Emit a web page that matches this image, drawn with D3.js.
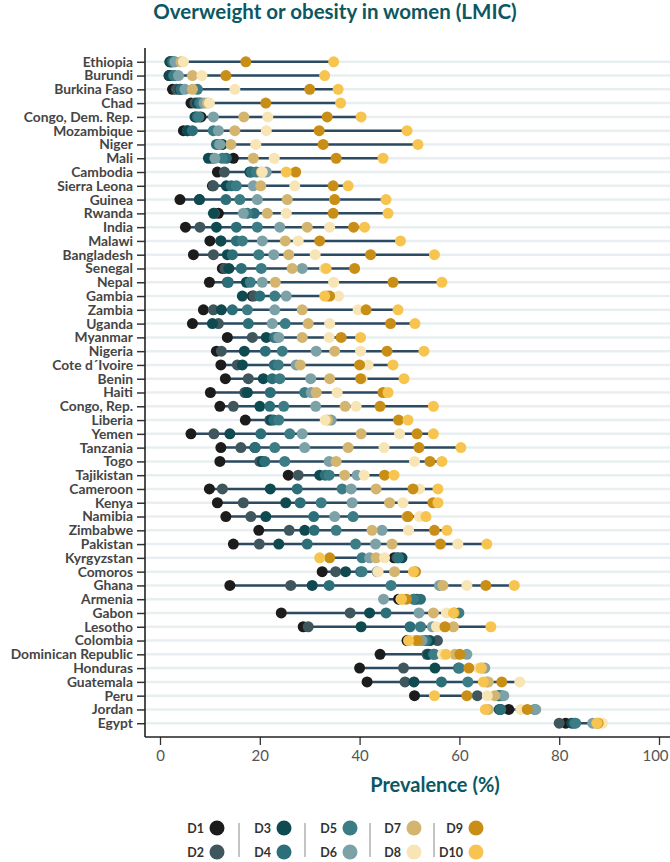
<!DOCTYPE html>
<html><head><meta charset="utf-8">
<script src="https://d3js.org/d3.v7.min.js"></script>
<style>
body{margin:0;background:#fff;}
svg{display:block;font-family:Lato,"Open Sans",sans-serif;}
</style></head>
<body><svg id="chart" width="670" height="862"></svg>
<script>
const countries = ["Ethiopia","Burundi","Burkina Faso","Chad","Congo, Dem. Rep.","Mozambique","Niger","Mali","Cambodia","Sierra Leona","Guinea","Rwanda","India","Malawi","Bangladesh","Senegal","Nepal","Gambia","Zambia","Uganda","Myanmar","Nigeria","Cote d´Ivoire","Benin","Haiti","Congo, Rep.","Liberia","Yemen","Tanzania","Togo","Tajikistan","Cameroon","Kenya","Namibia","Zimbabwe","Pakistan","Kyrgyzstan","Comoros","Ghana","Armenia","Gabon","Lesotho","Colombia","Dominican Republic","Honduras","Guatemala","Peru","Jordan","Egypt"];

const dec1  = [2.0,1.8,2.5,6.2,8.2,4.7,12.0,14.7,11.5,10.5,4.0,11.7,5.1,10.0,6.7,12.5,9.9,18.5,8.7,6.5,13.5,11.3,12.2,13.1,10.1,12.0,17.1,6.2,12.2,12.0,25.7,9.9,11.5,13.2,19.8,14.7,46.9,32.5,14.0,47.8,24.3,28.7,49.5,44.1,40.0,41.5,51.0,69.9,81.3];
const dec2  = [2.3,2.0,3.3,7.0,7.2,5.5,12.3,10.5,12.9,10.7,7.9,10.9,8.0,12.2,10.7,13.0,13.5,18.8,10.7,11.7,18.5,12.3,15.5,17.7,17.0,14.7,22.0,10.8,16.2,20.0,27.7,12.5,16.7,18.2,25.9,19.9,47.5,35.2,26.2,51.5,38.1,29.7,55.6,53.5,48.8,49.1,63.6,68.3,80.0];
const dec3  = [2.0,1.9,4.0,7.5,7.0,5.5,12.5,9.7,18.0,13.3,7.9,10.7,11.3,12.2,13.5,13.8,17.3,16.5,12.3,10.5,21.3,16.9,16.5,20.7,17.5,20.0,22.3,14.0,19.0,20.5,32.0,22.1,25.2,21.2,29.0,23.8,48.5,37.2,30.5,51.0,42.0,40.3,54.1,53.8,55.1,50.9,67.8,68.0,82.5];
const dec4  = [2.5,2.7,4.2,7.9,7.5,6.5,11.3,13.3,18.3,14.3,13.2,18.9,15.3,15.3,14.5,16.3,13.7,20.0,14.5,17.7,22.9,21.1,22.9,22.5,22.1,22.0,22.8,20.2,19.1,21.0,33.1,27.5,28.1,30.8,30.9,29.5,47.8,40.2,33.9,52.2,45.3,50.1,53.4,54.8,59.8,56.4,68.1,68.2,83.0];
const dec5  = [2.8,2.9,7.5,8.2,7.8,10.7,11.8,12.5,19.3,15.3,16.0,17.5,19.5,16.5,19.8,20.3,18.1,23.0,17.5,25.1,23.3,24.5,23.7,24.0,29.0,24.8,23.8,26.0,23.0,25.0,33.9,36.5,32.3,38.7,35.3,39.2,40.5,40.5,46.3,50.8,59.9,52.2,53.0,55.0,60.0,61.7,68.5,75.1,83.3];
const dec6  = [3.0,3.7,5.0,8.8,10.7,11.7,12.0,11.0,21.3,18.7,19.5,16.7,24.0,20.5,22.8,28.5,20.5,25.3,23.0,22.5,23.8,31.3,27.3,30.2,30.3,31.2,34.3,28.5,29.0,33.9,39.5,38.3,38.5,35.0,44.5,43.2,42.0,43.5,56.0,44.8,51.9,54.6,52.5,61.5,65.1,65.5,68.9,75.3,86.7];
const dec7  = [4.2,6.5,6.5,9.5,16.8,15.0,14.2,18.7,20.3,20.2,25.5,21.5,29.5,25.1,25.8,26.5,23.1,33.5,28.5,29.7,28.5,35.0,28.1,34.0,31.3,37.1,33.6,40.3,37.7,35.3,37.0,43.3,46.0,49.5,42.5,46.5,43.3,47.0,56.7,48.5,54.8,58.8,51.0,59.1,64.5,65.8,67.1,65.8,87.5];
const dec8  = [4.7,8.4,15.0,9.9,21.6,21.3,19.2,22.9,20.5,27.0,35.0,25.3,34.0,27.7,31.1,33.0,34.8,35.8,39.7,34.0,33.9,40.2,41.7,40.5,35.5,39.3,33.1,48.0,44.9,51.0,40.9,52.0,48.7,52.0,49.8,59.7,45.0,43.7,61.5,48.3,57.4,55.4,50.3,56.6,63.8,72.1,65.6,72.3,88.7];
const dec9  = [17.2,13.2,30.0,21.2,33.5,31.9,32.7,35.3,27.2,34.7,35.0,34.7,38.8,32.0,42.2,39.0,46.7,34.0,41.3,46.2,36.3,45.5,40.0,40.2,44.7,44.1,47.8,51.5,51.9,54.1,45.0,50.7,54.7,49.7,55.0,56.2,34.0,51.2,65.3,49.4,59.0,57.1,51.6,60.1,61.9,68.5,61.5,73.6,87.8];
const dec10 = [34.8,33.0,35.7,36.2,40.3,49.5,51.7,44.7,25.3,37.7,45.3,45.7,41.0,48.2,55.0,33.3,56.5,33.0,47.7,51.1,40.2,52.9,46.7,48.9,45.7,54.8,49.7,54.8,60.3,56.5,46.9,55.7,55.7,53.3,57.5,65.5,32.0,50.8,71.0,48.4,58.8,66.3,49.8,57.3,64.3,64.8,55.0,65.2,87.6];

const decileNames = ["D1","D2","D3","D4","D5","D6","D7","D8","D9","D10"];
const decileColors = ["#1c1c1c","#3f565c","#0f4a51","#2c6f79","#3b7c85","#7ca1a7","#d3b570","#f8e5b6","#c98e16","#f7c54f"];
const xTicks = [0,20,40,60,80,100];

const series = [dec1,dec2,dec3,dec4,dec5,dec6,dec7,dec8,dec9,dec10];

const svg = d3.select("#chart");
const plotLeft = 145, plotRight = 670, plotTop = 48, plotBottom = 737;
const teal = "#0c5761";

const x = d3.scaleLinear().domain([0,100]).range([160,659]);
const y = d3.scalePoint().domain(countries).range([plotTop, plotBottom]).padding(1);

// title
svg.append("text").attr("x",335).attr("y",19).attr("text-anchor","middle")
  .attr("font-size",20.5).attr("font-weight","bold").attr("fill",teal)
  .text("Overweight or obesity in women (LMIC)");

// gridlines
svg.append("g").selectAll("line").data(countries).join("line")
  .attr("x1",plotLeft).attr("x2",plotRight)
  .attr("y1",d=>y(d)).attr("y2",d=>y(d))
  .attr("stroke","#e9eff1").attr("stroke-width",2.5);

// y axis
const yAxis = svg.append("g").attr("transform",`translate(${plotLeft},0)`)
  .call(d3.axisLeft(y).tickSize(8).tickPadding(4));
yAxis.select(".domain").remove();
yAxis.selectAll(".tick line").attr("stroke","#333").attr("stroke-width",1.5);
yAxis.selectAll(".tick text").attr("font-size",13.8).attr("font-weight","bold")
  .attr("fill","#454545").attr("font-family","Lato, sans-serif");
svg.append("line").attr("x1",plotLeft).attr("x2",plotLeft).attr("y1",plotTop).attr("y2",plotBottom)
  .attr("stroke","#222").attr("stroke-width",1.6);

// x axis
const xAxis = svg.append("g").attr("transform",`translate(0,${plotBottom})`)
  .call(d3.axisBottom(x).tickValues(xTicks).tickSize(8).tickPadding(5));
xAxis.select(".domain").remove();
xAxis.selectAll(".tick line").attr("stroke","#333").attr("stroke-width",1.3);
xAxis.selectAll(".tick text").attr("font-size",15).attr("fill","#555").attr("font-family","Lato, sans-serif")
  .attr("dx",d=>d===100?-4:0);
svg.append("line").attr("x1",plotLeft).attr("x2",plotRight).attr("y1",plotBottom).attr("y2",plotBottom)
  .attr("stroke","#222").attr("stroke-width",1.6);

svg.append("text").attr("x",435).attr("y",792).attr("text-anchor","middle")
  .attr("font-size",20).attr("font-weight","bold").attr("fill",teal).text("Prevalence (%)");

// range lines
const rows = countries.map((c,i)=>({country:c, vals: series.map(s=>s[i])}));
svg.append("g").selectAll("line").data(rows).join("line")
  .attr("x1",d=>x(d3.min(d.vals))).attr("x2",d=>x(d3.max(d.vals)))
  .attr("y1",d=>y(d.country)).attr("y2",d=>y(d.country))
  .attr("stroke","#2d4a63").attr("stroke-width",2.5);

// dots
series.forEach((s,k)=>{
  svg.append("g").selectAll("circle").data(countries).join("circle")
    .attr("cx",(c,i)=>x(s[i])).attr("cy",c=>y(c)).attr("r",5.5)
    .attr("fill",decileColors[k]);
});

// legend
const legCols = [217,284,350,414,476];
const legRows = [828,852];
const leg = svg.append("g");
decileNames.forEach((name,k)=>{
  const col = Math.floor(k/2), row = k%2;
  const cx = legCols[col], cy = legRows[row];
  leg.append("circle").attr("cx",cx).attr("cy",cy).attr("r",7.5).attr("fill",decileColors[k]);
  leg.append("text").attr("x",cx-13).attr("y",cy+4.5).attr("text-anchor","end")
    .attr("font-size",12.5).attr("font-weight","bold").attr("fill","#333").text(name);
});
[239,305,370,434].forEach(sx=>{
  leg.append("line").attr("x1",sx).attr("x2",sx).attr("y1",823).attr("y2",857)
    .attr("stroke","#888").attr("stroke-width",1);
});
</script></body></html>
